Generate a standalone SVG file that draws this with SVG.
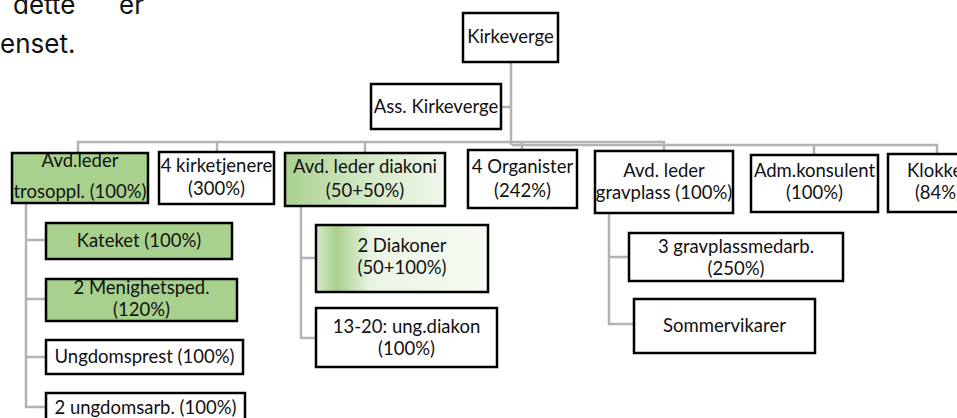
<svg xmlns="http://www.w3.org/2000/svg" width="957" height="418" viewBox="0 0 957 418">
<defs>
<linearGradient id="gDiak1" x1="0" y1="0" x2="1" y2="0">
<stop offset="0" stop-color="#a9d18e"/>
<stop offset="0.45" stop-color="#cfe6c1"/>
<stop offset="1" stop-color="#f1f8ed"/>
</linearGradient>
<linearGradient id="gDiak2" x1="0" y1="0" x2="1" y2="0">
<stop offset="0" stop-color="#d8ebcc"/>
<stop offset="0.12" stop-color="#a9d18e"/>
<stop offset="0.32" stop-color="#eaf4e4"/>
<stop offset="1" stop-color="#f6fbf3"/>
</linearGradient>
<style>
.box{stroke:#000;stroke-width:2.5;fill:#fff}
.green{fill:#a9d18e}
.grad1{fill:url(#gDiak1)}
.grad2{fill:url(#gDiak2)}
.t{font-family:Lato,"Liberation Sans",sans-serif;font-size:18.5px;fill:#111;text-anchor:middle}
.c{stroke:#b3b3b3;stroke-width:2.5;fill:none}
.body{font-family:Inter,"Liberation Sans",sans-serif;font-size:26px;fill:#111}
</style>
</defs>
<rect width="957" height="418" fill="#fff"/>
<text class="body" x="13" y="14">dette</text>
<text class="body" x="119" y="14">er</text>
<text class="body" x="0" y="53">enset.</text>

<g id="connectors">
<path class="c" d="M511 62V145M501 107H511"/>
<path class="c" d="M78 153V142H664V151"/>
<path class="c" d="M512 145H937V154"/>
<path class="c" d="M217 142V152M365 142V153M522 142V150M814 145V155"/>
<path class="c" d="M26 203V407H46M26 240H46M26 299H46M26 357H46"/>
<path class="c" d="M301 206V338H316M301 258H316"/>
<path class="c" d="M609 213V324H634M609 257H629"/>
</g>

<g id="kirkeverge"><rect class="box" x="463" y="13" width="95" height="49"/><text class="t" x="510.5" y="43">Kirkeverge</text></g>
<g id="ass-kirkeverge"><rect class="box" x="371" y="84" width="130" height="45"/><text class="t" x="436" y="113">Ass. Kirkeverge</text></g>

<g id="avd-trosoppl"><rect class="box green" x="12" y="153" width="136" height="50"/><text class="t" x="80" y="167">Avd.leder</text><text class="t" x="80" y="198">trosoppl. (100%)</text></g>
<g id="kirketjenere"><rect class="box" x="159" y="152" width="115" height="52"/><text class="t" x="216.5" y="172">4 kirketjenere</text><text class="t" x="216.5" y="195">(300%)</text></g>
<g id="avd-diakoni"><rect class="box grad1" x="285" y="153" width="160" height="53"/><text class="t" x="365" y="173">Avd. leder diakoni</text><text class="t" x="365" y="197">(50+50%)</text></g>
<g id="organister"><rect class="box" x="468" y="150" width="109" height="58"/><text class="t" x="522.5" y="173">4 Organister</text><text class="t" x="522.5" y="197">(242%)</text></g>
<g id="avd-gravplass"><rect class="box" x="595" y="151" width="138" height="62"/><text class="t" x="664" y="177">Avd. leder</text><text class="t" x="664" y="199">gravplass (100%)</text></g>
<g id="adm-konsulent"><rect class="box" x="751" y="155" width="127" height="57"/><text class="t" x="814.5" y="177">Adm.konsulent</text><text class="t" x="814.5" y="199">(100%)</text></g>
<g id="klokker"><rect class="box" x="888" y="154" width="100" height="58"/><text class="t" x="938" y="177">Klokker</text><text class="t" x="938" y="199">(84%)</text></g>

<g id="kateket"><rect class="box green" x="46" y="223" width="186" height="36"/><text class="t" x="139" y="247">Kateket (100%)</text></g>
<g id="menighetsped"><rect class="box green" x="46" y="279" width="191" height="42"/><text class="t" x="141.5" y="294">2 Menighetsped.</text><text class="t" x="141.5" y="316">(120%)</text></g>
<g id="ungdomsprest"><rect class="box" x="46" y="340" width="197" height="34"/><text class="t" x="144.5" y="363">Ungdomsprest (100%)</text></g>
<g id="ungdomsarb"><rect class="box" x="46" y="393" width="199" height="30"/><text class="t" x="145.5" y="414">2 ungdomsarb. (100%)</text></g>

<g id="diakoner"><rect class="box grad2" x="316" y="225" width="172" height="67"/><text class="t" x="402" y="252">2 Diakoner</text><text class="t" x="402" y="274">(50+100%)</text></g>
<g id="ung-diakon"><rect class="box" x="316" y="308" width="181" height="59"/><text class="t" x="406.5" y="333">13-20: ung.diakon</text><text class="t" x="406.5" y="355">(100%)</text></g>

<g id="gravplassmedarb"><rect class="box" x="629" y="233" width="214" height="48"/><text class="t" x="736" y="253">3 gravplassmedarb.</text><text class="t" x="736" y="275">(250%)</text></g>
<g id="sommervikarer"><rect class="box" x="634" y="299" width="181" height="54"/><text class="t" x="724.5" y="332">Sommervikarer</text></g>
</svg>
